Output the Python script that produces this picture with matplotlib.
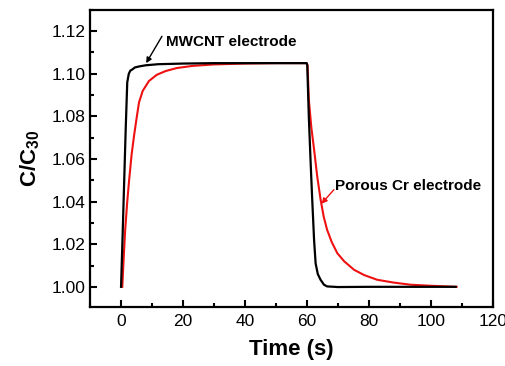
import matplotlib.pyplot as plt
from matplotlib.ticker import MultipleLocator

# values
mwcnt_t = [0.0, 0.5, 1.0, 1.5, 2.0, 2.5, 3.0, 3.6, 4.5, 6, 8, 12, 20, 30, 40, 50, 59.9,
           60.1, 60.6, 61.2, 61.7, 62.3, 62.8, 63.5, 64.4, 65.5, 66.5, 70, 80, 90, 100, 108]
mwcnt_c = [1.000, 1.024, 1.049, 1.074, 1.096, 1.100, 1.1015, 1.102, 1.103, 1.1035, 1.104,
           1.1045, 1.1048, 1.105, 1.105, 1.105, 1.105,
           1.104, 1.080, 1.058, 1.041, 1.022, 1.011, 1.006, 1.0033, 1.001, 1.0002,
           0.9999, 1.0, 1.0, 1.0, 1.0]

cr_t = [0.4, 0.8, 1.3, 2.0, 2.6, 3.4, 4.2, 5.0, 5.8, 7, 9, 11.5, 14.4, 18, 23, 30, 40, 50, 59.9,
        60.2, 60.6, 61.4, 62.3, 63.3, 64.4, 65.4, 66.5, 68, 69.8, 72, 75.2, 78.5, 82.7, 88,
        93.4, 100, 108.3]
cr_c = [1.000, 1.012, 1.026, 1.040, 1.050, 1.062, 1.071, 1.079, 1.0866, 1.092, 1.0966,
        1.0995, 1.1013, 1.1027, 1.1037, 1.1044, 1.1048, 1.105, 1.105,
        1.104, 1.088, 1.075, 1.0645, 1.052, 1.041, 1.033, 1.0268, 1.021, 1.0158, 1.012,
        1.008, 1.0055, 1.0033, 1.002, 1.001, 1.0005, 1.000]

plt.rcParams["font.family"] = ["Liberation Sans", "DejaVu Sans"]
plt.rcParams["mathtext.fontset"] = "custom"
plt.rcParams["mathtext.rm"] = "Liberation Sans:bold"
plt.rcParams["mathtext.bf"] = "Liberation Sans:bold"

RED = "#ee1111"

fig = plt.figure(figsize=(5.06, 3.66), dpi=100)
ax = fig.add_axes([0.178, 0.161, 0.796, 0.812])

ax.plot(cr_t, cr_c, color=RED, lw=1.5)
ax.plot(mwcnt_t, mwcnt_c, color="black", lw=1.6)

ax.set_xlim(-10, 120)
ax.set_ylim(0.9905, 1.130)
ax.xaxis.set_major_locator(MultipleLocator(20))
ax.xaxis.set_minor_locator(MultipleLocator(10))
ax.yaxis.set_major_locator(MultipleLocator(0.02))
ax.yaxis.set_minor_locator(MultipleLocator(0.01))
ax.yaxis.set_major_formatter(plt.FormatStrFormatter("%.2f"))
ax.tick_params(which="both", direction="in", width=1.5, labelsize=12.5)
ax.tick_params(axis="y", pad=3)
ax.tick_params(axis="x", pad=5)
ax.tick_params(which="major", length=5)
ax.tick_params(which="minor", length=3)
for s in ax.spines.values():
    s.set_linewidth(1.6)

ax.set_xlabel("Time (s)", fontsize=16, fontweight="bold", labelpad=7)
ax.set_ylabel(r"C/C$_{\mathrm{30}}$", fontsize=16, fontweight="bold", labelpad=7)

ax.text(14.5, 1.1148, "MWCNT electrode", fontsize=11, fontweight="bold", va="center")
ax.annotate("", xy=(8.1, 1.105), xytext=(13.2, 1.1176),
            arrowprops=dict(arrowstyle="-|>", color="black", lw=1, mutation_scale=8,
                            shrinkA=0, shrinkB=0))
ax.text(69, 1.0475, "Porous Cr electrode", fontsize=11, fontweight="bold", va="center")
ax.annotate("", xy=(64.7, 1.039), xytext=(68.7, 1.0456),
            arrowprops=dict(arrowstyle="-|>", color=RED, lw=1, mutation_scale=8,
                            shrinkA=0, shrinkB=0))

fig.savefig("out.png", dpi=100)
